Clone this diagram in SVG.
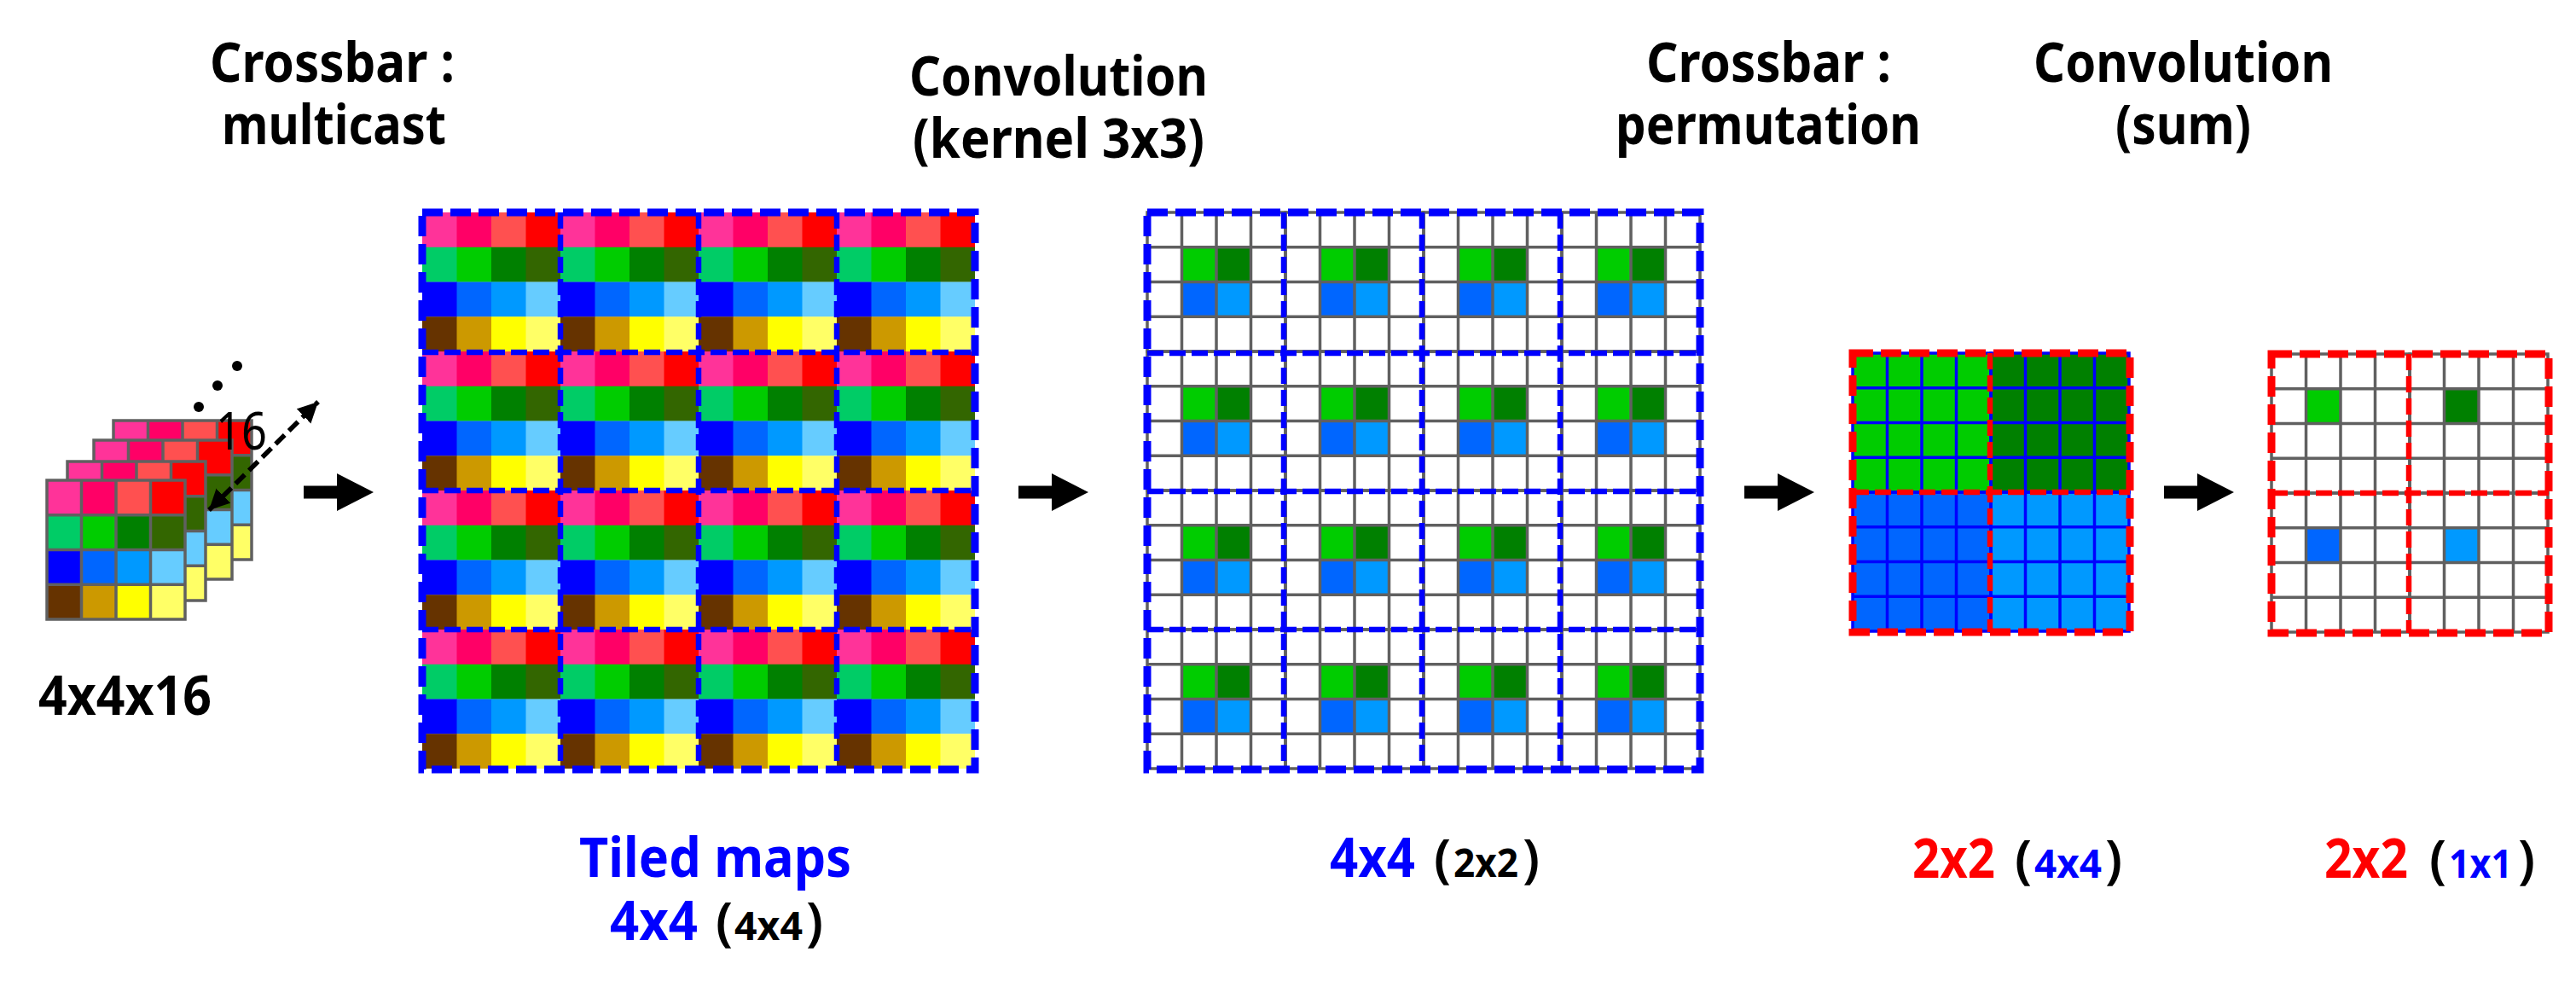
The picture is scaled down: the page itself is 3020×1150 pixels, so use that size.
<svg xmlns="http://www.w3.org/2000/svg" width="3020" height="1150" viewBox="0 0 3020 1150">
<style>
text{font-family:"Noto Sans","Open Sans","Liberation Sans",sans-serif;font-weight:700;font-size:64px;fill:#000}
.sm{font-size:46px}
.par{font-size:62px;font-weight:600;fill:#000}
.b{fill:#00f}.r{fill:#f00}.k{fill:#000}
.grid{fill:none;stroke:#606060;stroke-width:3.5}
.bgrid{fill:none;stroke:#00f;stroke-width:3.5}
.dob{fill:none;stroke:#00f;stroke-width:9;stroke-dasharray:24 9}
.dib{fill:none;stroke:#00f;stroke-width:6.5;stroke-dasharray:19 7}
.dor{fill:none;stroke:#f00;stroke-width:9;stroke-dasharray:24 9}
.dir{fill:none;stroke:#f00;stroke-width:6.5;stroke-dasharray:19 7}
.c1{fill:#0c0}.c2{fill:#008000}.c3{fill:#06f}.c4{fill:#09f}
</style>
<defs>
<path id="g4" d="M0 0H162V163H0ZM40.5 0V163M81 0V163M121.5 0V163M0 40.75H162M0 81.5H162M0 122.25H162"/>
<g id="cells">
<rect width="41" height="41" fill="#f39"/><rect x="40.5" width="41" height="41" fill="#f06"/><rect x="81" width="41" height="41" fill="#ff5050"/><rect x="121.5" width="40.5" height="41" fill="#f00"/>
<rect y="40.75" width="41" height="41" fill="#0c6"/><rect x="40.5" y="40.75" width="41" height="41" fill="#0c0"/><rect x="81" y="40.75" width="41" height="41" fill="#008000"/><rect x="121.5" y="40.75" width="40.5" height="41" fill="#360"/>
<rect y="81.5" width="41" height="41" fill="#00f"/><rect x="40.5" y="81.5" width="41" height="41" fill="#06f"/><rect x="81" y="81.5" width="41" height="41" fill="#09f"/><rect x="121.5" y="81.5" width="40.5" height="41" fill="#6cf"/>
<rect y="122.25" width="41" height="40.75" fill="#630"/><rect x="40.5" y="122.25" width="41" height="40.75" fill="#c90"/><rect x="81" y="122.25" width="41" height="40.75" fill="#ff0"/><rect x="121.5" y="122.25" width="40.5" height="40.75" fill="#ff6"/>
</g>
<g id="layer"><use href="#cells"/><use href="#g4" class="grid"/></g>
<g id="tile2">
<rect x="40.5" y="40.75" width="40.5" height="40.75" class="c1"/><rect x="81" y="40.75" width="40.5" height="40.75" class="c2"/><rect x="40.5" y="81.5" width="40.5" height="40.75" class="c3"/><rect x="81" y="81.5" width="40.5" height="40.75" class="c4"/>
<use href="#g4" class="grid"/>
</g>
<path id="block" d="M0 -7.5H39V-22L82 0L39 22V7.5H0Z" fill="#000"/>
<marker id="tip" markerUnits="userSpaceOnUse" markerWidth="28" markerHeight="28" refX="24" refY="12" orient="auto-start-reverse"><path d="M0 0L24 12L0 24Z" fill="#000"/></marker>
</defs>

<g id="title-multicast"><text x="246" y="96" textLength="287" lengthAdjust="spacingAndGlyphs">Crossbar :</text><text x="260" y="169" textLength="263" lengthAdjust="spacingAndGlyphs">multicast</text></g>
<g id="title-conv1"><text x="1066" y="112" textLength="350" lengthAdjust="spacingAndGlyphs">Convolution</text><text x="1070" y="185" textLength="342" lengthAdjust="spacingAndGlyphs">(kernel 3x3)</text></g>
<g id="title-perm"><text x="1930" y="96" textLength="287" lengthAdjust="spacingAndGlyphs">Crossbar :</text><text x="1894" y="169" textLength="358" lengthAdjust="spacingAndGlyphs">permutation</text></g>
<g id="title-conv2"><text x="2384" y="96" textLength="351" lengthAdjust="spacingAndGlyphs">Convolution</text><text x="2480" y="169" textLength="159" lengthAdjust="spacingAndGlyphs">(sum)</text></g>

<g id="stack">
<use href="#layer" x="133" y="493"/><use href="#layer" x="110" y="516"/><use href="#layer" x="79" y="541"/><use href="#layer" x="55" y="563"/>
<circle cx="233" cy="477" r="6"/><circle cx="255" cy="452" r="6"/><circle cx="278" cy="429" r="6"/>
<text x="253" y="527" style="font-weight:400;font-size:62px" textLength="60" lengthAdjust="spacingAndGlyphs">16</text>
<text x="45" y="838" textLength="203" lengthAdjust="spacingAndGlyphs">4x4x16</text>
</g>

<g id="map-tiled">
<use href="#cells" x="495" y="249"/><use href="#cells" x="657" y="249"/><use href="#cells" x="819" y="249"/><use href="#cells" x="981" y="249"/>
<use href="#cells" x="495" y="412"/><use href="#cells" x="657" y="412"/><use href="#cells" x="819" y="412"/><use href="#cells" x="981" y="412"/>
<use href="#cells" x="495" y="575"/><use href="#cells" x="657" y="575"/><use href="#cells" x="819" y="575"/><use href="#cells" x="981" y="575"/>
<use href="#cells" x="495" y="738"/><use href="#cells" x="657" y="738"/><use href="#cells" x="819" y="738"/><use href="#cells" x="981" y="738"/>
<path class="dib" d="M657 249V902M819 249V902M981 249V902M495 413H1143M495 575H1143M495 738H1143"/>
<path class="dob" d="M495 249H1143V902H495Z"/>
<text y="1028"><tspan x="679" class="b" textLength="319" lengthAdjust="spacingAndGlyphs">Tiled maps</tspan></text>
<text y="1102"><tspan x="715" class="b" textLength="103" lengthAdjust="spacingAndGlyphs">4x4</tspan> <tspan x="839" class="par">(</tspan><tspan x="861" class="sm k" textLength="80" lengthAdjust="spacingAndGlyphs">4x4</tspan><tspan x="945" class="par">)</tspan></text>
</g>

<g id="map-conv">
<use href="#tile2" x="1345" y="249"/><use href="#tile2" x="1507" y="249"/><use href="#tile2" x="1669" y="249"/><use href="#tile2" x="1831" y="249"/>
<use href="#tile2" x="1345" y="412"/><use href="#tile2" x="1507" y="412"/><use href="#tile2" x="1669" y="412"/><use href="#tile2" x="1831" y="412"/>
<use href="#tile2" x="1345" y="575"/><use href="#tile2" x="1507" y="575"/><use href="#tile2" x="1669" y="575"/><use href="#tile2" x="1831" y="575"/>
<use href="#tile2" x="1345" y="738"/><use href="#tile2" x="1507" y="738"/><use href="#tile2" x="1669" y="738"/><use href="#tile2" x="1831" y="738"/>
<path class="dib" d="M1505 249V902M1667 249V902M1829 249V902M1345 414H1993M1345 576H1993M1345 738H1993"/>
<path class="dob" d="M1345 249H1993V902H1345Z"/>
<text y="1028"><tspan x="1559" class="b" textLength="100" lengthAdjust="spacingAndGlyphs">4x4</tspan> <tspan x="1681" class="par">(</tspan><tspan x="1704" class="sm k" textLength="76" lengthAdjust="spacingAndGlyphs">2x2</tspan><tspan x="1785" class="par">)</tspan></text>
</g>

<g id="map-perm">
<rect x="2172" y="414" width="161" height="163" class="c1"/><rect x="2333" y="414" width="164" height="163" class="c2"/><rect x="2172" y="577" width="161" height="164" class="c3"/><rect x="2333" y="577" width="164" height="164" class="c4"/>
<use href="#g4" class="bgrid" x="2172" y="414"/><use href="#g4" class="bgrid" x="2334" y="414"/><use href="#g4" class="bgrid" x="2172" y="577"/><use href="#g4" class="bgrid" x="2334" y="577"/>
<path class="dir" d="M2333 414V741M2172 577H2497"/>
<path class="dor" d="M2172 414H2497V741H2172Z"/>
<text y="1029"><tspan x="2242" class="r" textLength="97" lengthAdjust="spacingAndGlyphs">2x2</tspan> <tspan x="2362" class="par">(</tspan><tspan x="2385" class="sm b" textLength="79" lengthAdjust="spacingAndGlyphs">4x4</tspan><tspan x="2468" class="par">)</tspan></text>
</g>

<g id="map-sum">
<rect x="2703" y="456" width="41" height="41" class="c1"/><rect x="2865" y="456" width="41" height="41" class="c2"/><rect x="2703" y="618" width="41" height="41" class="c3"/><rect x="2865" y="618" width="41" height="41" class="c4"/>
<use href="#g4" class="grid" x="2663" y="415"/><use href="#g4" class="grid" x="2825" y="415"/><use href="#g4" class="grid" x="2663" y="578"/><use href="#g4" class="grid" x="2825" y="578"/>
<path class="dir" d="M2824 415V742M2663 578H2988"/>
<path class="dor" d="M2663 415H2988V742H2663Z"/>
<text y="1029"><tspan x="2725" class="r" textLength="98" lengthAdjust="spacingAndGlyphs">2x2</tspan> <tspan x="2848" class="par">(</tspan><tspan x="2871" class="sm b" textLength="74" lengthAdjust="spacingAndGlyphs">1x1</tspan><tspan x="2952" class="par">)</tspan></text>
</g>

<g id="connectors">
<line x1="245" y1="598" x2="373" y2="471" stroke="#000" stroke-width="5.5" stroke-dasharray="15 7" marker-start="url(#tip)" marker-end="url(#tip)"/>
<use href="#block" x="356" y="577"/>
<use href="#block" x="1194" y="577"/>
<use href="#block" x="2045" y="577"/>
<use href="#block" x="2537" y="577"/>
</g>
</svg>
